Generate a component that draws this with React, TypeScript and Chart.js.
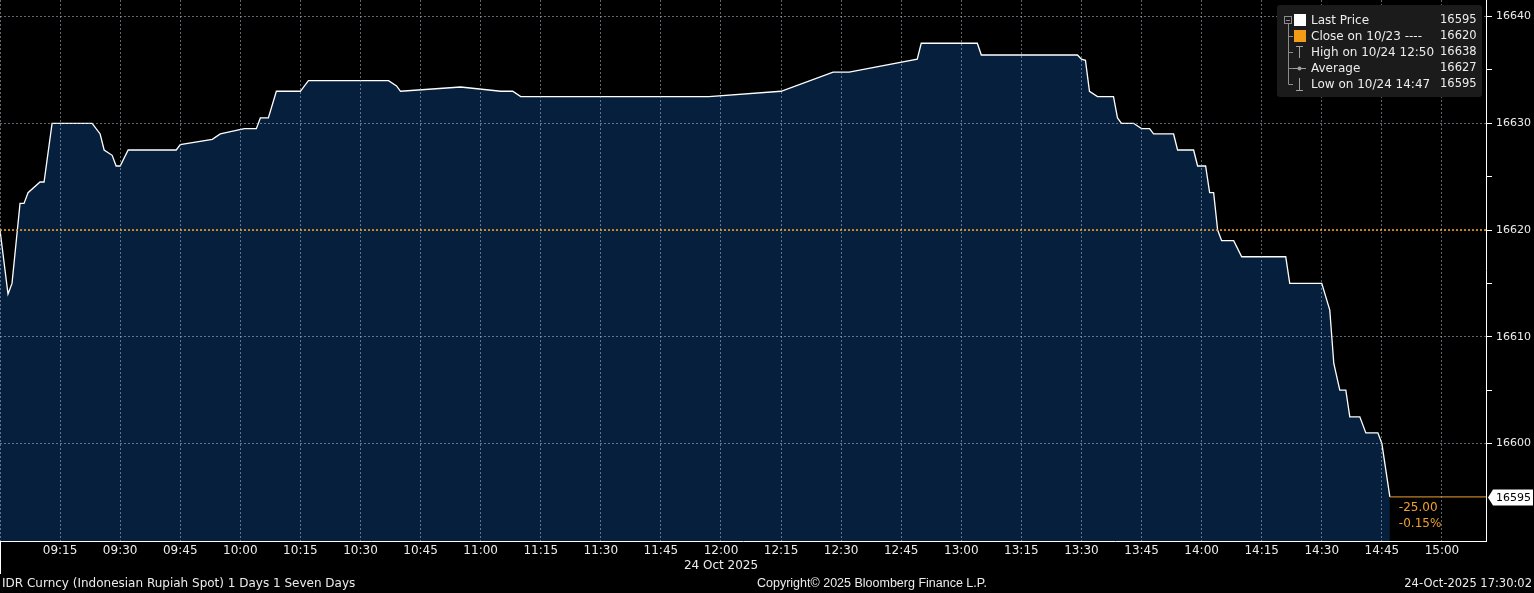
import React, { useEffect, useRef } from 'react';
import { Chart, registerables } from 'chart.js';

Chart.register(...registerables);

// ---- Data (minutes after 09:00 on 24 Oct 2025, IDR spot price) ----
const minutesFrom0900 = [
  0, 2, 3, 5, 6, 7, 10, 11, 13, 23, 25, 26, 28, 29, 30, 32, 44, 45, 53, 55,
  61, 64, 65, 67, 69, 75, 77, 97, 99, 100, 115, 125, 128, 130, 177, 195, 208, 212, 229, 230,
  244, 245, 269, 270, 271, 272, 274, 278, 279, 280, 283, 285, 287, 288, 293, 294, 298, 299, 301, 302,
  303, 304, 305, 308, 310, 321, 322, 330, 332, 333, 334.5, 336, 337, 339.5, 341, 344, 345, 347,
];
const prices = [
  16620, 16614, 16615, 16622.5, 16622.5, 16623.5, 16624.5, 16624.5, 16630, 16630,
  16629, 16627.5, 16627, 16626, 16626, 16627.5, 16627.5, 16628, 16628.5, 16629,
  16629.5, 16629.5, 16630.5, 16630.5, 16633, 16633, 16634, 16634, 16633.5, 16633,
  16633.4, 16633, 16633, 16632.5, 16632.5, 16633, 16634.8, 16634.8, 16636, 16637.5,
  16637.5, 16636.4, 16636.4, 16636, 16635.9, 16633, 16632.5, 16632.5, 16630.5, 16630,
  16630, 16629.5, 16629.5, 16629, 16629, 16627.5, 16627.5, 16626, 16626, 16623.5,
  16623.5, 16620, 16619, 16619, 16617.5, 16617.5, 16615, 16615, 16612.5, 16607.5,
  16605, 16605, 16602.5, 16602.5, 16601, 16601, 16600, 16595,
];
const previousClose = 16620;
const lastPrice = 16595;

const xTickMinutes = [
  0, 15, 30, 45, 60, 75, 90, 105, 120, 135, 150, 165, 180, 195, 210, 225,
  240, 255, 270, 285, 300, 315, 330, 345, 360,
];
const yTickValues = [16595, 16600, 16605, 16610, 16615, 16620, 16625, 16630, 16635, 16640];
const yLabelValues = [16600, 16610, 16620, 16630, 16640];

const legendLabels = ['Last Price', 'Close on 10/23 ----', 'High on 10/24 12:50', 'Average', 'Low on 10/24 14:47'];
const legendValues = ['16595', '16620', '16638', '16627', '16595'];

const dateLabel = '24 Oct 2025';
const footerLeft = 'IDR Curncy (Indonesian Rupiah Spot) 1 Days 1 Seven Days';
const footerCenter = 'Copyright\u00A9 2025 Bloomberg Finance L.P.';
const footerRight = '24-Oct-2025 17:30:02';

// ---- View / style constants ----
const X_MAX = 371;
const Y_MIN = 16590.87;
const Y_MAX = 16641.55;
const FONT = 'DejaVu Sans';
const FILL = '#051f3d';
const GRID = 'rgba(175,188,205,0.55)';
const ORANGE = '#f0a030';
const TEXT = '#ececec';

const fmtTime = (m: number) => {
  const t = 9 * 60 + m;
  const h = Math.floor(t / 60);
  const mm = t % 60;
  return `${String(h).padStart(2, '0')}:${String(mm).padStart(2, '0')}`;
};

const overlayPlugin = {
  id: 'bbgOverlay',
  afterDraw(chart: any) {
    const { ctx, chartArea: a, scales } = chart;
    const xs = scales.x;
    const ys = scales.y;
    ctx.save();
    ctx.setLineDash([]);

    // axis lines
    ctx.strokeStyle = '#ffffff';
    ctx.lineWidth = 1;
    ctx.beginPath();
    ctx.moveTo(a.right + 0.5, 0);
    ctx.lineTo(a.right + 0.5, a.bottom + 0.5);
    ctx.moveTo(0, a.bottom + 0.5);
    ctx.lineTo(a.right + 1, a.bottom + 0.5);
    ctx.moveTo(0.5, a.bottom);
    ctx.lineTo(0.5, a.bottom + 33);
    ctx.stroke();

    // last price box on axis
    const yp = Math.round(ys.getPixelForValue(lastPrice)) + 0.5;
    ctx.fillStyle = '#ffffff';
    ctx.beginPath();
    ctx.moveTo(a.right + 2, yp);
    ctx.lineTo(a.right + 7, yp - 8);
    ctx.lineTo(1533, yp - 8);
    ctx.lineTo(1533, yp + 8);
    ctx.lineTo(a.right + 7, yp + 8);
    ctx.closePath();
    ctx.fill();
    ctx.fillStyle = '#000000';
    ctx.font = `11px "${FONT}"`;
    ctx.textBaseline = 'middle';
    ctx.textAlign = 'left';
    ctx.fillText(String(lastPrice), a.right + 10, yp + 0.5);

    // change annotations
    const chg = lastPrice - previousClose;
    const pct = (chg / previousClose) * 100;
    ctx.fillStyle = ORANGE;
    ctx.font = `12px "${FONT}"`;
    const ax = xs.getPixelForValue(minutesFrom0900[minutesFrom0900.length - 1]) + 9;
    ctx.fillText(chg.toFixed(2), ax, yp + 10);
    ctx.fillText(pct.toFixed(2) + '%', ax, yp + 26);

    // legend box
    const lx = 1277, ly = 5, lw = 205, lh = 92;
    ctx.fillStyle = '#1b1b1b';
    ctx.beginPath();
    ctx.moveTo(lx + 3, ly);
    ctx.arcTo(lx + lw, ly, lx + lw, ly + lh, 3);
    ctx.arcTo(lx + lw, ly + lh, lx, ly + lh, 3);
    ctx.arcTo(lx, ly + lh, lx, ly, 3);
    ctx.arcTo(lx, ly, lx + lw, ly, 3);
    ctx.closePath();
    ctx.fill();

    const rowY = (i: number) => 20 + 16 * i;
    // tree
    ctx.strokeStyle = '#8c8c8c';
    ctx.lineWidth = 1;
    ctx.strokeRect(1284.5, 16.5, 7, 7);
    ctx.beginPath();
    ctx.moveTo(1286, 20.5); ctx.lineTo(1290, 20.5);
    ctx.moveTo(1288.5, 24); ctx.lineTo(1288.5, rowY(4) + 0.5);
    for (let i = 1; i < 5; i++) {
      ctx.moveTo(1288.5, rowY(i) + 0.5);
      ctx.lineTo(1293, rowY(i) + 0.5);
    }
    ctx.stroke();
    // icons
    ctx.fillStyle = '#ffffff';
    ctx.fillRect(1294, rowY(0) - 6, 12, 12);
    ctx.fillStyle = '#f39a16';
    ctx.fillRect(1294, rowY(1) - 6, 12, 12);
    ctx.strokeStyle = '#a0a0a0';
    ctx.beginPath();
    ctx.moveTo(1296, rowY(2) - 5.5); ctx.lineTo(1303, rowY(2) - 5.5);
    ctx.moveTo(1299.5, rowY(2) - 6); ctx.lineTo(1299.5, rowY(2) + 6);
    ctx.moveTo(1293, rowY(3) + 0.5); ctx.lineTo(1306, rowY(3) + 0.5);
    ctx.moveTo(1299.5, rowY(4) - 6); ctx.lineTo(1299.5, rowY(4) + 6);
    ctx.moveTo(1296, rowY(4) + 6.5); ctx.lineTo(1303, rowY(4) + 6.5);
    ctx.stroke();
    ctx.fillStyle = '#a0a0a0';
    ctx.beginPath();
    ctx.arc(1299.5, rowY(3) + 0.5, 2, 0, Math.PI * 2);
    ctx.fill();
    // legend text
    ctx.fillStyle = TEXT;
    ctx.textBaseline = 'middle';
    legendLabels.forEach((t, i) => {
      ctx.textAlign = 'left';
      ctx.font = `12px "${FONT}"`;
      ctx.fillText(t, 1311, rowY(i) + 0.5);
      ctx.font = `11.5px "${FONT}"`;
      ctx.fillText(legendValues[i], 1440, rowY(i) + 0.5);
    });

    // date under axis
    ctx.fillStyle = TEXT;
    ctx.font = `12px "${FONT}"`;
    ctx.textAlign = 'center';
    ctx.fillText(dateLabel, xs.getPixelForValue(180), 566);

    // footer
    ctx.font = `12px "${FONT}"`;
    ctx.textAlign = 'left';
    ctx.fillText(footerLeft, 2, 584);
    ctx.font = `12.5px "Liberation Sans"`;
    ctx.fillText(footerCenter, 757, 584);
    ctx.font = `11.5px "${FONT}"`;
    ctx.textAlign = 'right';
    ctx.fillText(footerRight, 1532, 584);

    ctx.restore();
  },
};

export default function App() {
  const ref = useRef<HTMLCanvasElement>(null);

  useEffect(() => {
    document.body.style.margin = '0';
    document.body.style.background = '#000';
    const pricePoints = minutesFrom0900.map((m, i) => ({ x: m, y: prices[i] }));
    const lastMinute = minutesFrom0900[minutesFrom0900.length - 1];

    const chart = new Chart(ref.current as HTMLCanvasElement, {
      type: 'line',
      data: {
        datasets: [
          {
            data: pricePoints,
            borderColor: '#ffffff',
            borderWidth: 1.3,
            backgroundColor: FILL,
            fill: 'start',
            pointRadius: 0,
            tension: 0,
            order: 3,
          },
          {
            data: [{ x: 0, y: previousClose }, { x: X_MAX, y: previousClose }],
            borderColor: ORANGE,
            borderWidth: 1.6,
            borderDash: [2, 2],
            pointRadius: 0,
            fill: false,
            order: 1,
          },
          {
            data: [{ x: lastMinute, y: lastPrice }, { x: X_MAX, y: lastPrice }],
            borderColor: ORANGE,
            borderWidth: 1,
            pointRadius: 0,
            fill: false,
            order: 2,
          },
        ],
      },
      options: {
        responsive: false,
        animation: false,
        events: [],
        layout: { padding: 0 },
        plugins: { legend: { display: false }, tooltip: { enabled: false } },
        scales: {
          x: {
            type: 'linear',
            min: 0,
            max: X_MAX,
            afterBuildTicks: (s: any) => {
              s.ticks = xTickMinutes.map((v) => ({ value: v }));
            },
            afterFit: (s: any) => {
              s.height = 52;
              s.paddingLeft = 0;
              s.paddingRight = 0;
            },
            ticks: {
              autoSkip: false,
              maxRotation: 0,
              padding: 3,
              color: TEXT,
              font: { family: FONT, size: 12 },
              callback: (v: any) => (v === 0 ? '' : fmtTime(Number(v))),
            },
            grid: {
              color: GRID,
              lineWidth: 1,
              drawTicks: false,
              z: 1,
            },
            border: { display: false, dash: [2, 2] },
          },
          y: {
            type: 'linear',
            position: 'right',
            min: Y_MIN,
            max: Y_MAX,
            afterBuildTicks: (s: any) => {
              s.ticks = yTickValues.map((v) => ({ value: v }));
            },
            afterFit: (s: any) => {
              s.width = 48;
              s.paddingTop = 0;
              s.paddingBottom = 0;
            },
            ticks: {
              padding: 4,
              color: TEXT,
              font: { family: FONT, size: 11 },
              callback: (v: any) => (yLabelValues.includes(Number(v)) ? String(v) : ''),
            },
            grid: {
              color: (c: any) => {
                const v = c.tick ? c.tick.value : NaN;
                return yLabelValues.includes(v) && v !== previousClose ? GRID : 'rgba(0,0,0,0)';
              },
              tickColor: (c: any) => {
                const v = c.tick ? c.tick.value : NaN;
                return v === lastPrice ? 'rgba(0,0,0,0)' : '#ffffff';
              },
              tickLength: 6,
              lineWidth: 1,
              z: 1,
            },
            border: { display: false, dash: [2, 2] },
          },
        },
      },
      plugins: [overlayPlugin],
    } as any);

    return () => chart.destroy();
  }, []);

  return (
    <div style={{ width: 1534, height: 593, background: '#000' }}>
      <canvas ref={ref} width={1534} height={593} style={{ display: 'block' }} />
    </div>
  );
}
